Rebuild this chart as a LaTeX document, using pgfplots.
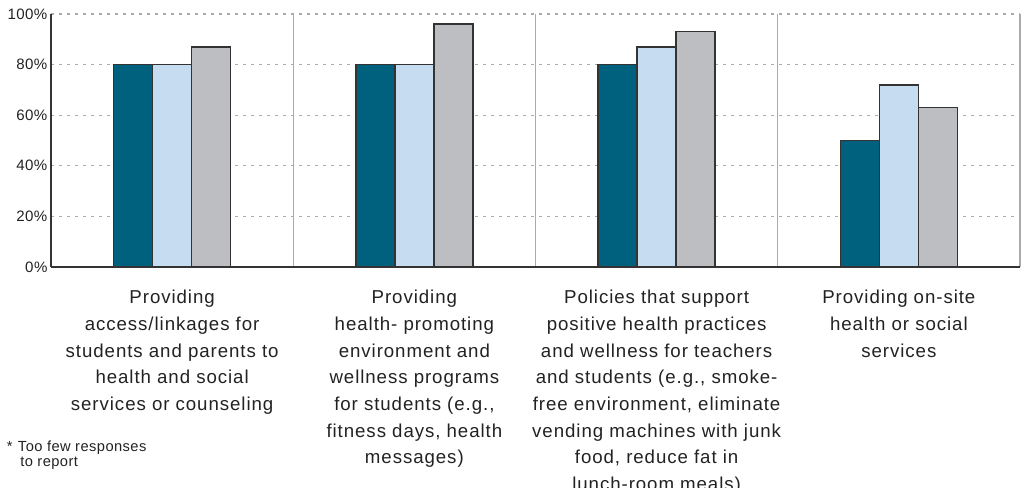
\documentclass[border=0pt]{standalone}
\usepackage{fontspec}
\setmainfont{Liberation Sans}
\newfontfamily\labelfont[LetterSpace=5]{Liberation Sans}
\newfontfamily\tickfont[LetterSpace=3]{Liberation Sans}
\usepackage{pgfplots}
\pgfplotsset{compat=1.18}
\definecolor{cdark}{HTML}{00617F}
\definecolor{clight}{HTML}{C5DCF1}
\definecolor{cgray}{HTML}{BDBEC2}
\definecolor{cedge}{HTML}{333333}
\definecolor{ctext}{HTML}{222222}
\definecolor{csep}{HTML}{ABABAB}
\begin{document}
\begin{tikzpicture}
\useasboundingbox (0,0) rectangle (771pt,365.25pt);
\begin{axis}[
  at={(38.25pt,165pt)}, anchor=south west,
  scale only axis, width=726.75pt, height=189.75pt,
  xmin=-0.5, xmax=3.5, ymin=0, ymax=100,
  ybar=0pt, bar width=29.25pt,
  axis x line*=bottom, axis y line*=left,
  axis line style={cedge, line width=1pt},
  xtick={0,1,2,3}, xtick style={draw=none},
  minor xtick={0.5,1.5,2.5,3.5},
  minor tick style={draw=none},
  minor x grid style={csep, line width=0.9pt},
  xminorgrids=true,
  ytick={0,20,40,60,80,100}, ytick style={draw=none},
  ymajorgrids=true,
  y grid style={csep, line width=0.8pt, dash pattern=on 2pt off 4pt},
  yticklabel={\pgfmathprintnumber{\tick}\%},
  /pgf/number format/assume math mode=true,
  yticklabel style={font=\tickfont\fontsize{11.3}{13}\selectfont, text=ctext, inner sep=0pt, xshift=-2.5pt},
  xticklabels={
    {Providing\\access/linkages for\\students and parents to\\health and social\\services or counseling},
    {Providing\\health- promoting\\environment and\\wellness programs\\for students (e.g.,\\fitness days, health\\messages)},
    {Policies that support\\positive health practices\\and wellness for teachers\\and students (e.g., smoke-\\free environment, eliminate\\vending machines with junk\\food, reduce fat in\\lunch-room meals)},
    {Providing on-site\\health or social\\services}},
  xticklabel style={font=\labelfont\fontsize{14}{20}\selectfont, text=ctext, align=center, inner sep=0pt, anchor=north, yshift=-13pt},
  clip=false,
]
\addplot[fill=cdark, draw=cedge, line width=1pt] coordinates {(0,80) (1,80) (2,80) (3,50)};
\addplot[fill=clight, draw=cedge, line width=1pt] coordinates {(0,80) (1,80) (2,87) (3,72)};
\addplot[fill=cgray, draw=cedge, line width=1pt] coordinates {(0,87) (1,96) (2,93) (3,63)};
\end{axis}
\node[anchor=north west, align=left, inner sep=0pt, text=ctext, font=\tickfont\fontsize{11}{11.3}\selectfont] at (5pt,34.5pt) {*\hspace{4pt}Too few responses\\\hspace{10pt}to report};
\end{tikzpicture}
\end{document}
